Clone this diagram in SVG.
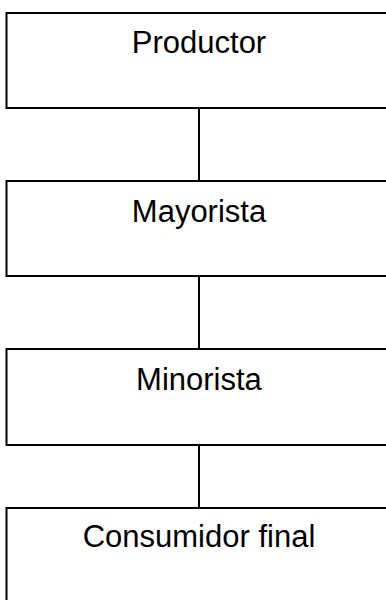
<svg xmlns="http://www.w3.org/2000/svg" width="386" height="600" viewBox="0 0 386 600">
<style>
.box{fill:#fff;stroke:#000;stroke-width:2}
.lbl{font-family:"Liberation Sans",Arial,sans-serif;font-size:31px;fill:#000;text-anchor:middle}
.con{stroke:#000;stroke-width:2;fill:none}
</style>
<rect width="386" height="600" fill="#fff"/>
<g id="connectors">
<line class="con" x1="199" y1="108" x2="199" y2="181"/>
<line class="con" x1="199" y1="276" x2="199" y2="349"/>
<line class="con" x1="199" y1="445" x2="199" y2="508"/>
</g>
<g id="productor">
<rect class="box" x="6.5" y="13" width="385" height="95"/>
<text class="lbl" x="199" y="53">Productor</text>
</g>
<g id="mayorista">
<rect class="box" x="6.5" y="181" width="385" height="95"/>
<text class="lbl" x="199" y="222">Mayorista</text>
</g>
<g id="minorista">
<rect class="box" x="6.5" y="349" width="385" height="96"/>
<text class="lbl" x="199" y="390">Minorista</text>
</g>
<g id="consumidor">
<rect class="box" x="6.5" y="508" width="385" height="120"/>
<text class="lbl" x="199" y="547">Consumidor final</text>
</g>
</svg>
